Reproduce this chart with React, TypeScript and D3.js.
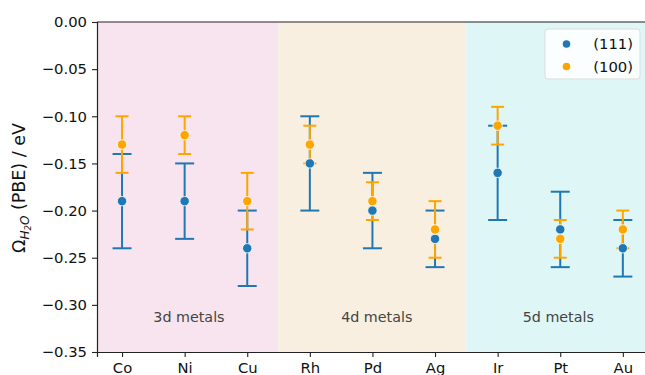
import React, { useEffect, useRef } from 'react';
import * as d3 from 'd3';

// metals along the x axis
const metals = ['Co', 'Ni', 'Cu', 'Rh', 'Pd', 'Ag', 'Ir', 'Pt', 'Au'];

// (111) facet: mean, lower, upper
const mean111 = [-0.19, -0.19, -0.24, -0.15, -0.20, -0.23, -0.16, -0.22, -0.24];
const low111 = [-0.24, -0.23, -0.28, -0.20, -0.24, -0.26, -0.21, -0.26, -0.27];
const high111 = [-0.14, -0.15, -0.20, -0.10, -0.16, -0.20, -0.11, -0.18, -0.21];

// (100) facet: mean, lower, upper
const mean100 = [-0.13, -0.12, -0.19, -0.13, -0.19, -0.22, -0.11, -0.23, -0.22];
const low100 = [-0.16, -0.14, -0.22, -0.15, -0.21, -0.25, -0.13, -0.25, -0.24];
const high100 = [-0.10, -0.10, -0.16, -0.11, -0.17, -0.19, -0.09, -0.21, -0.20];

// shaded groups (span in x units, label start in x units)
const groups = [
  { label: '3d metals', from: -0.4, to: 2.5, textAt: 0.5, color: '#f8e4ee' },
  { label: '4d metals', from: 2.5, to: 5.5, textAt: 3.5, color: '#f8efe0' },
  { label: '5d metals', from: 5.5, to: 8.4, textAt: 6.4, color: '#dff6f6' },
];

const yTicks = [0, -0.05, -0.1, -0.15, -0.2, -0.25, -0.3, -0.35];

const App = () => {
  const ref = useRef<SVGSVGElement>(null);

  useEffect(() => {
    const width = 645;
    const height = 375;
    const margin = { top: 22, left: 97, bottom: 352 };
    const font = '"DejaVu Sans", sans-serif';
    const fs = 14.8;

    const svg = d3.select(ref.current);
    svg.selectAll('*').remove();
    svg.attr('width', width).attr('height', height);

    const x = d3.scaleLinear().domain([-0.4, 8.4]).range([margin.left, margin.left + 8.8 * 62.6]);
    const y = d3.scaleLinear().domain([-0.35, 0]).range([margin.bottom, margin.top]);

    // background bands
    svg.append('g')
      .selectAll('rect')
      .data(groups)
      .enter().append('rect')
      .attr('x', g => x(g.from))
      .attr('y', y(0))
      .attr('width', g => x(g.to) - x(g.from))
      .attr('height', y(-0.35) - y(0))
      .attr('fill', g => g.color);

    svg.append('g')
      .selectAll('text')
      .data(groups)
      .enter().append('text')
      .attr('x', g => x(g.textAt))
      .attr('y', y(-0.3125))
      .attr('dy', '0.35em')
      .attr('font-family', font)
      .attr('font-size', 14.3)
      .attr('fill', '#444')
      .text(g => g.label);

    const series = [
      { mean: mean111, low: low111, high: high111, color: '#1f77b4', cap: 9.5 },
      { mean: mean100, low: low100, high: high100, color: '#ffa500', cap: 6.5 },
    ];

    // error bars first
    series.forEach(s => {
      const g = svg.append('g').attr('stroke', s.color).attr('stroke-width', 2);
      metals.forEach((_, i) => {
        const cx = x(i);
        g.append('line').attr('x1', cx).attr('x2', cx).attr('y1', y(s.low[i])).attr('y2', y(s.high[i]));
        g.append('line').attr('x1', cx - s.cap).attr('x2', cx + s.cap).attr('y1', y(s.low[i])).attr('y2', y(s.low[i]));
        g.append('line').attr('x1', cx - s.cap).attr('x2', cx + s.cap).attr('y1', y(s.high[i])).attr('y2', y(s.high[i]));
      });
    });

    // points on top
    series.forEach(s => {
      svg.append('g')
        .selectAll('circle')
        .data(s.mean)
        .enter().append('circle')
        .attr('cx', (_, i) => x(i))
        .attr('cy', d => y(d))
        .attr('r', 4.7)
        .attr('fill', s.color)
        .attr('stroke', 'white')
        .attr('stroke-width', 0.8);
    });

    // axes
    const xAxis = d3.axisBottom(x)
      .tickValues(metals.map((_, i) => i))
      .tickFormat((_, i) => metals[i])
      .tickSize(5)
      .tickPadding(5);
    const gx = svg.append('g')
      .attr('transform', `translate(0, ${margin.bottom})`)
      .call(xAxis);
    gx.select('.domain').attr('stroke', '#222').attr('stroke-width', 1.2);
    gx.selectAll('.tick line').attr('stroke', '#222').attr('stroke-width', 1.1);
    gx.selectAll('text').attr('font-family', font).attr('font-size', fs).attr('fill', '#111');

    const yAxis = d3.axisLeft(y)
      .tickValues(yTicks)
      .tickFormat(d => d3.format('.2f')(d as number).replace('-', '\u2212'))
      .tickSize(5)
      .tickPadding(5);
    const gy = svg.append('g')
      .attr('transform', `translate(${margin.left}, 0)`)
      .call(yAxis);
    gy.select('.domain').attr('stroke', '#222').attr('stroke-width', 1.2);
    gy.selectAll('.tick line').attr('stroke', '#222').attr('stroke-width', 1.1);
    gy.selectAll('text').attr('font-family', font).attr('font-size', fs).attr('fill', '#111');

    // top spine
    svg.append('line')
      .attr('x1', margin.left).attr('x2', width)
      .attr('y1', y(0)).attr('y2', y(0))
      .attr('stroke', '#222').attr('stroke-width', 1.2);

    // y label
    const yl = svg.append('text')
      .attr('transform', `translate(25, ${(margin.top + margin.bottom) / 2 + 1}) rotate(-90)`)
      .attr('text-anchor', 'middle')
      .attr('font-family', font)
      .attr('font-size', 17.5)
      .attr('fill', '#111');
    yl.append('tspan').text('\u03A9');
    yl.append('tspan').attr('font-size', 12).attr('font-style', 'italic').attr('dy', 4).text('H');
    yl.append('tspan').attr('font-size', 8.5).attr('font-style', 'italic').attr('dy', 2).text('2');
    yl.append('tspan').attr('font-size', 12).attr('font-style', 'italic').attr('dy', -2).text('O');
    yl.append('tspan').attr('dy', -4).text(' (PBE) / eV');

    // legend
    const lg = svg.append('g').attr('transform', 'translate(545, 29)');
    lg.append('rect')
      .attr('width', 95).attr('height', 50).attr('rx', 3)
      .attr('fill', 'white').attr('fill-opacity', 0.85)
      .attr('stroke', '#ddd').attr('stroke-width', 1);
    series.forEach((s, i) => {
      lg.append('circle')
        .attr('cx', 21.5).attr('cy', 15 + i * 22.5)
        .attr('r', 3.8).attr('fill', s.color);
      lg.append('text')
        .attr('x', 88).attr('y', 15 + i * 22.5)
        .attr('dy', '0.35em')
        .attr('text-anchor', 'end')
        .attr('font-family', font)
        .attr('font-size', fs)
        .attr('fill', '#111')
        .text(i === 0 ? '(111)' : '(100)');
    });
  }, []);

  return <svg ref={ref} style={{ position: 'absolute', left: 0, top: 0 }}></svg>;
};

export default App;
